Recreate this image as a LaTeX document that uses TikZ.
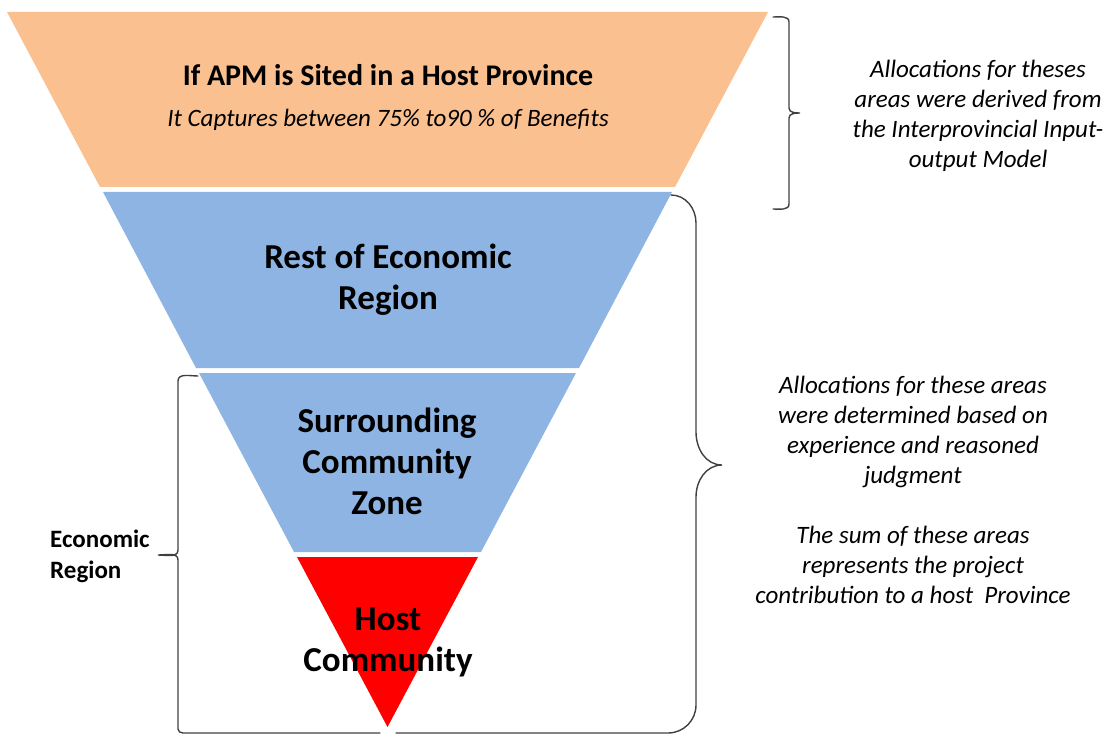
\documentclass[tikz,border=0pt]{standalone}
\usepackage{fontspec}
\setmainfont{Carlito}
\usepackage{tikz}
\usetikzlibrary{positioning}

\definecolor{funnelorange}{HTML}{FAC090}
\definecolor{funnelblue}{HTML}{8EB4E3}
\definecolor{bracegray}{HTML}{404040}

\begin{document}
\begin{tikzpicture}[x=1pt, y=-1pt,
bandtext/.style={align=center, font=\bfseries\fontsize{35}{41}\selectfont},
notetext/.style={align=center, font=\itshape\fontsize{25}{30}\selectfont},
bracket/.style={draw=bracegray, line width=1.4pt, line cap=round}]

\useasboundingbox (0,0) rectangle (1115,735);

% funnel bands
\fill [funnelorange] (7,12) -- (768,12) -- (675,187) -- (100,187) -- cycle;
\fill [funnelblue] (103,192) -- (672,192) -- (579,368) -- (196,368) -- cycle;
\fill [funnelblue] (199,373) -- (576,373) -- (481,552) -- (294,552) -- cycle;
\fill [red] (297,557) -- (478,557) -- (387.5,727) -- cycle;

% texts in the funnel
\node [font=\bfseries\fontsize{30}{36}\selectfont] (apm) at (388,75) {If APM is Sited in a Host Province};
\node [font=\itshape\fontsize{25}{30}\selectfont] (captures) at (388,120) {It Captures between 75\% to90 \% of Benefits};
\node [bandtext] (rest) at (388,280) {Rest of Economic\\Region};
\node [bandtext] (surround) at (387,461) {Surrounding\\Community\\Zone};
\node [bandtext] (host) at (388,642) {Host\\Community};

% braces
\draw [bracket] (773,17) to[out=0,in=90] (789,22) -- (789,108) to[out=270,in=180] (800,113)
  to[out=180,in=90] (789,118) -- (789,204) to[out=270,in=0] (773,209);
\draw [bracket] (671,195) to[out=0,in=90] (696,223) -- (696,432) to[out=270,in=180] (722,465)
  to[out=180,in=90] (696,497) -- (696,705) to[out=270,in=0] (668,733) -- (396,733);
\draw [bracket] (198,376) to[out=180,in=90] (178,381) -- (178,550) to[out=270,in=0] (158,555)
  to[out=0,in=90] (178,560) -- (178,729) to[out=270,in=180] (183,733) -- (380,733);

% side notes
\node [inner sep=0, anchor=west, align=left, font=\bfseries\fontsize{25}{31}\selectfont] (econ) at (50,556) {Economic\\Region};
\node [notetext] (derived) at (978,116) {Allocations for theses\\areas were derived from\\the Interprovincial Input-\\output Model};
\node [notetext] (judged) at (913,490) {Allocations for these areas\\were determined based on\\experience and reasoned\\judgment\\[30pt]The sum of these areas\\represents the project\\contribution to a host~~Province};

\end{tikzpicture}
\end{document}
